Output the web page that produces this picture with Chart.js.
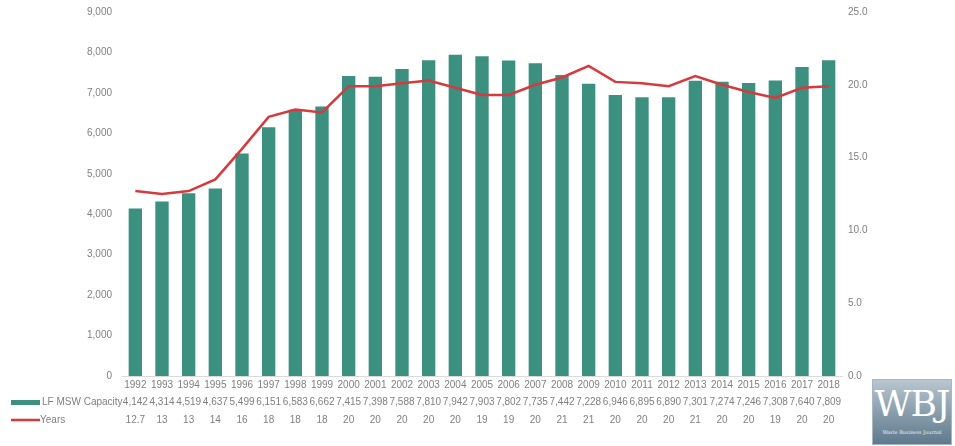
<!DOCTYPE html>
<html lang="en">
<head>
    <meta charset="UTF-8">
    <title>LF MSW Capacity</title>
    <script src="https://cdn.jsdelivr.net/npm/chart.js"></script>
    <style>
        html, body { margin: 0; padding: 0; background: #fff; }
        .wrap { position: relative; width: 955px; height: 446px; }
        .logo {
            position: absolute; left: 872px; top: 379px; width: 80px; height: 66px;
            background: linear-gradient(#b9c6cf 0%, #8ea2b0 45%, #5f7a8c 100%);
            border: 1px solid #a9b6bf; box-sizing: border-box;
            font-family: "DejaVu Serif", serif; color: #fff; text-align: center;
        }
        .logo .big { font-size: 36px; line-height: 48px; letter-spacing: -1px; }
        .logo .small { font-size: 5px; line-height: 8px; color: #e8eef2; }
    </style>
</head>
<body>
    <div class="wrap">
        <canvas id="chart" width="955" height="446"></canvas>
        <div class="logo"><div class="big">WBJ</div><div class="small">Waste Business Journal</div></div>
    </div>
    <script>
        // data
        const years = ['1992', '1993', '1994', '1995', '1996', '1997', '1998', '1999', '2000', '2001', '2002', '2003', '2004', '2005',
            '2006', '2007', '2008', '2009', '2010', '2011', '2012', '2013', '2014', '2015', '2016', '2017', '2018'];
        const capacity = [4142, 4314, 4519, 4637, 5499, 6151, 6583, 6662, 7415, 7398, 7588, 7810, 7942, 7903,
            7802, 7735, 7442, 7228, 6946, 6895, 6890, 7301, 7274, 7246, 7308, 7640, 7809];
        const yearsLeft = [12.7, 12.5, 12.7, 13.5, 15.6, 17.8, 18.3, 18.1, 19.9, 19.9, 20.1, 20.3, 19.8, 19.3,
            19.3, 20.0, 20.5, 21.3, 20.2, 20.1, 19.9, 20.6, 20.0, 19.5, 19.1, 19.8, 19.9];
        const yearsRow = ['12.7', '13', '13', '14', '16', '18', '18', '18', '20', '20', '20', '20', '20', '19',
            '19', '20', '21', '21', '20', '20', '20', '21', '20', '20', '19', '20', '20'];
        const leftTicks = { min: 0, max: 9000, step: 1000 };
        const rightTicks = { min: 0, max: 25, step: 5 };

        const teal = '#3b907f';
        const red = '#d53a3e';
        const grey = '#7f7f7f';
        const font = '"Liberation Sans", Arial, sans-serif';

        // data table under the x axis, like the Excel one
        const dataTable = {
            id: 'dataTable',
            afterDraw(chart) {
                const ctx = chart.ctx;
                const x = chart.scales.x;
                const rows = [
                    { y: 402, label: 'LF MSW Capacity', values: capacity.map(v => v.toLocaleString('en-US')), color: teal, bar: true },
                    { y: 420, label: 'Years', values: yearsRow, color: red, bar: false }
                ];
                ctx.save();
                ctx.font = '10px ' + font;
                ctx.textBaseline = 'middle';
                rows.forEach(row => {
                    if (row.bar) {
                        ctx.fillStyle = row.color;
                        ctx.fillRect(11, row.y - 2, 29, 5);
                    } else {
                        ctx.strokeStyle = row.color;
                        ctx.lineWidth = 2.5;
                        ctx.beginPath();
                        ctx.moveTo(11, row.y);
                        ctx.lineTo(40, row.y);
                        ctx.stroke();
                    }
                    ctx.fillStyle = grey;
                    ctx.textAlign = 'left';
                    ctx.fillText(row.label, row.bar ? 42 : 40, row.y);
                    ctx.textAlign = 'center';
                    row.values.forEach((v, i) => {
                        ctx.fillText(v, x.getPixelForValue(i), row.y);
                    });
                });
                ctx.restore();
            }
        };

        new Chart(document.getElementById('chart'), {
            data: {
                labels: years,
                datasets: [{
                    type: 'line',
                    label: 'Years',
                    data: yearsLeft,
                    yAxisID: 'y2',
                    borderColor: red,
                    borderWidth: 2.5,
                    pointRadius: 0,
                    tension: 0,
                    order: 0
                },
                {
                    type: 'bar',
                    label: 'LF MSW Capacity',
                    data: capacity,
                    yAxisID: 'y',
                    backgroundColor: teal,
                    categoryPercentage: 1,
                    barPercentage: 0.5,
                    order: 1
                }]
            },
            options: {
                responsive: false,
                animation: false,
                layout: { padding: { top: 12, bottom: 54 } },
                plugins: {
                    legend: { display: false },
                    tooltip: { enabled: false }
                },
                scales: {
                    x: {
                        grid: { display: false, drawTicks: false },
                        border: { color: '#d9d9d9' },
                        ticks: { color: grey, font: { family: font, size: 10 }, maxRotation: 0, autoSkip: false, padding: 3 },
                        afterFit(scale) { scale.height = 16; }
                    },
                    y: {
                        position: 'left',
                        min: leftTicks.min,
                        max: leftTicks.max,
                        grid: { display: false, drawTicks: false },
                        border: { display: false },
                        ticks: {
                            stepSize: leftTicks.step,
                            color: grey,
                            font: { family: font, size: 10 },
                            padding: 10,
                            callback: v => v.toLocaleString('en-US')
                        },
                        afterFit(scale) { scale.width = 122; scale.paddingTop = 0; scale.paddingBottom = 0; }
                    },
                    y2: {
                        position: 'right',
                        min: rightTicks.min,
                        max: rightTicks.max,
                        grid: { display: false, drawTicks: false },
                        border: { display: false },
                        ticks: {
                            stepSize: rightTicks.step,
                            color: grey,
                            font: { family: font, size: 10 },
                            padding: 6,
                            callback: v => v.toFixed(1)
                        },
                        afterFit(scale) { scale.width = 113; scale.paddingTop = 0; scale.paddingBottom = 0; }
                    }
                }
            },
            plugins: [dataTable]
        });
    </script>
</body>
</html>
